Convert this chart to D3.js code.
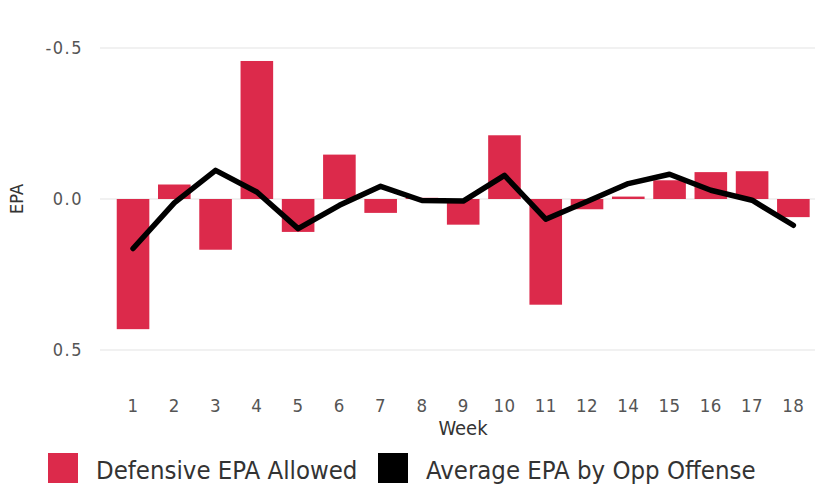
<!DOCTYPE html>
<html>
<head>
<meta charset="utf-8">
<script src="https://cdn.jsdelivr.net/npm/d3@7"></script>
<style>
  html, body { margin: 0; padding: 0; background: #fff; }
  svg { display: block; font-family: "DejaVu Sans Condensed", "DejaVu Sans", sans-serif; }
</style>
</head>
<body>
<svg id="chart" width="815" height="485"></svg>
<script>
const weeks = ["1","2","3","4","5","6","7","8","9","10","11","12","14","15","16","17","18"];
const defensiveEPA = [0.431, -0.048, 0.168, -0.457, 0.109, -0.147, 0.046, -0.004, 0.085, -0.211, 0.350, 0.034, -0.008, -0.062, -0.089, -0.092, 0.060];
const avgOppEPA = [0.164, 0.013, -0.095, -0.023, 0.098, 0.021, -0.042, 0.005, 0.007, -0.078, 0.067, 0.008, -0.051, -0.082, -0.029, 0.004, 0.087];
const yTicks = [-0.5, 0, 0.5];
const legendItems = ["Defensive EPA Allowed", "Average EPA by Opp Offense"];

const barColor = "#DC2A4B";
const svg = d3.select("#chart");

const x = d3.scaleBand().domain(weeks).range([112.4, 814]).paddingInner(0.21).paddingOuter(0.105);
const y = d3.scaleLinear().domain([-0.5, 0.5]).range([48, 350]);

// gridlines
svg.append("g").selectAll("line").data(yTicks).join("line")
  .attr("x1", 100).attr("x2", 815)
  .attr("y1", d => y(d)).attr("y2", d => y(d))
  .attr("stroke", "#ececec").attr("stroke-width", 1.5);

// y tick labels
svg.append("g").selectAll("text").data(yTicks).join("text")
  .attr("x", 83).attr("y", d => y(d))
  .attr("dy", "0.35em")
  .attr("text-anchor", "end")
  .attr("font-size", 18)
  .attr("fill", "#555")
  .attr("letter-spacing", "1.5")
  .text(d => d3.format(".1f")(d).replace("−", "-"));

// y axis label
svg.append("text")
  .attr("transform", `translate(23,${y(0)}) rotate(-90)`)
  .attr("text-anchor", "middle")
  .attr("font-size", 18)
  .attr("fill", "#333")
  .text("EPA");

// bars
svg.append("g").selectAll("rect").data(weeks).join("rect")
  .attr("x", d => x(d))
  .attr("width", x.bandwidth())
  .attr("y", (d, i) => Math.min(y(0), y(defensiveEPA[i])))
  .attr("height", (d, i) => Math.abs(y(defensiveEPA[i]) - y(0)))
  .attr("fill", barColor);

// line
const line = d3.line()
  .x((d, i) => x(weeks[i]) + x.bandwidth() / 2)
  .y(d => y(d));
svg.append("path")
  .datum(avgOppEPA)
  .attr("d", line)
  .attr("fill", "none")
  .attr("stroke", "#000")
  .attr("stroke-width", 5.5)
  .attr("stroke-linejoin", "round")
  .attr("stroke-linecap", "round");

// x tick labels
svg.append("g").selectAll("text").data(weeks).join("text")
  .attr("x", d => x(d) + x.bandwidth() / 2)
  .attr("y", 406)
  .attr("dy", "0.35em")
  .attr("text-anchor", "middle")
  .attr("font-size", 18.5)
  .attr("fill", "#555")
  .attr("letter-spacing", "0.5")
  .text(d => d);

// x axis label
svg.append("text")
  .attr("x", 463).attr("y", 428)
  .attr("dy", "0.35em")
  .attr("text-anchor", "middle")
  .attr("font-size", 20)
  .attr("fill", "#333")
  .text("Week");

// legend
const legendX = [48, 378];
const legendColors = [barColor, "#000"];
const lg = svg.append("g").selectAll("g").data(legendItems).join("g")
  .attr("transform", (d, i) => `translate(${legendX[i]},453)`);
lg.append("rect").attr("width", 30).attr("height", 30).attr("fill", (d, i) => legendColors[i]);
lg.append("text")
  .attr("x", 48).attr("y", 17)
  .attr("dy", "0.35em")
  .attr("font-size", 25.5)
  .attr("fill", "#333")
  .text(d => d);
</script>
</body>
</html>
